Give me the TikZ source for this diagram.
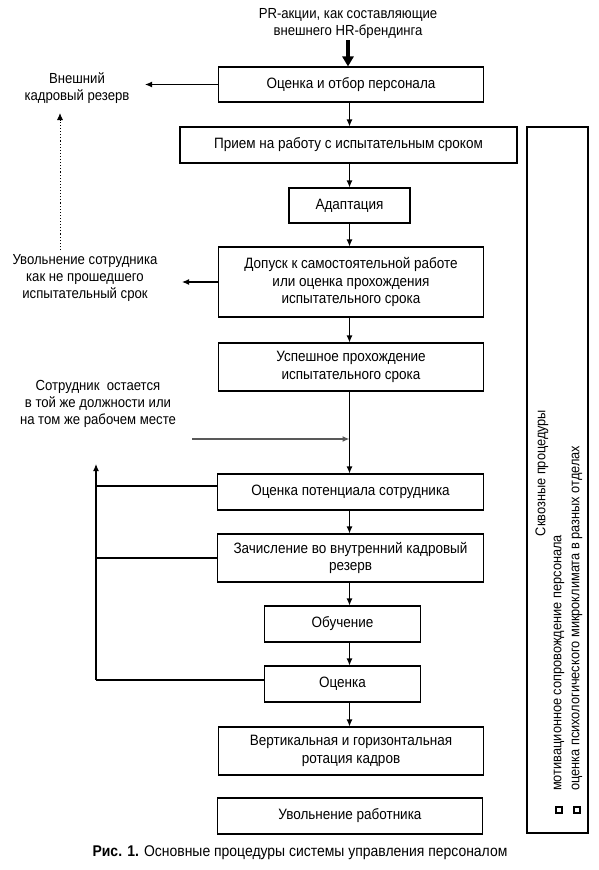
\documentclass[tikz,border=0pt]{standalone}
\usepackage{fontspec}
\setmainfont{Liberation Sans}[FakeStretch=0.9]
\usetikzlibrary{arrows.meta}
\begin{document}
\begin{tikzpicture}[x=1pt,y=-1pt,
  box/.style={draw,line width=1.1pt,inner sep=0pt,align=center,font=\fontsize{15}{17.5}\selectfont},
  lbl/.style={inner sep=0pt,align=center,font=\fontsize{14.6}{17}\selectfont},
  sidet/.style={inner sep=0pt,font=\fontsize{14.2}{17}\selectfont},
  arr/.style={line width=1.1pt,-{Latex[length=7pt,width=6pt]}},
  ln/.style={line width=1.1pt}]
\useasboundingbox (0,0) rectangle (599,870);
% boxes
\node[box,minimum width=265pt,minimum height=35pt] (b1) at (351,84.5) {Оценка и отбор персонала};
\node[box,minimum width=337pt,minimum height=36pt] (b2) at (348.5,145) {Прием на работу с испытательным сроком};
\node[box,minimum width=121pt,minimum height=35pt] (b3) at (349.5,205.5) {Адаптация};
\node[box,minimum width=265pt,minimum height=70pt] (b4) at (351,282) {Допуск к самостоятельной работе\\или оценка прохождения\\испытательного срока};
\node[box,minimum width=265pt,minimum height=48pt] (b5) at (351,367) {Успешное прохождение\\испытательного срока};
\node[box,minimum width=266pt,minimum height=36pt] (b6) at (350.5,492) {Оценка потенциала сотрудника};
\node[box,minimum width=266pt,minimum height=48pt] (b7) at (350.5,558) {Зачисление во внутренний кадровый\\резерв};
\node[box,minimum width=156pt,minimum height=36pt] (b8) at (342.5,624) {Обучение};
\node[box,minimum width=156pt,minimum height=36pt] (b9) at (342.5,684) {Оценка};
\node[box,minimum width=265pt,minimum height=48pt] (b10) at (351,751) {Вертикальная и горизонтальная\\ротация кадров};
\node[box,minimum width=265pt,minimum height=36pt] (b11) at (350,816) {Увольнение работника};
\node[box,minimum width=61pt,minimum height=706pt] (side) at (557.5,480) {};
% side texts
\node[sidet,rotate=90] (s1) at (542,473) {Сквозные процедуры};
\node[sidet,rotate=90,anchor=west] (s2) at (559,791) {мотивационное сопровождение персонала};
\node[sidet,rotate=90,anchor=west] (s3) at (577,791) {оценка психологического микроклимата в разных отделах};
\draw[line width=1.2pt] (556,807) rectangle (562,813);
\draw[line width=1.2pt] (574,807) rectangle (580,813);
% free texts
\node[lbl] (pr) at (348,23.5) {PR-акции, как составляющие\\внешнего HR-брендинга};
\node[lbl] (ext) at (77,88.5) {Внешний\\кадровый резерв};
\node[lbl] (fire) at (85,277.5) {Увольнение сотрудника\\как не прошедшего\\испытательный срок};
\node[lbl] (stay) at (98,403.5) {Сотрудник\ \ остается\\в той же должности или\\на том же рабочем месте};
\node[inner sep=0pt,font=\fontsize{15.5}{17}\selectfont] (cap) at (300,853) {\textbf{Рис. 1.} Основные процедуры системы управления персоналом};
% coordinates
\coordinate (e1) at (145,85);
\coordinate (e4) at (182,283);
\coordinate (dt) at (60,113);
\coordinate (db) at (60,250);
\coordinate (st) at (192,439);
\coordinate (jn) at (b5.south |- st);
\coordinate (lt) at (96,464);
\coordinate (lb) at (96,680);
% connectors
\draw[line width=3.2pt,-{Triangle[length=10pt,width=11pt]}] (pr.south |- 0,40) -- (pr.south |- b1.north);
\draw[arr] (b1.west) -- (b1.west -| e1);
\draw[arr] (b1.south -| b3.north) -- (b2.north -| b3.north);
\draw[arr] (b2.south -| b3.north) -- (b3.north);
\draw[arr] (b3.south) -- (b4.north -| b3.south);
\draw[arr] (b4.west) -- (b4.west -| e4);
\draw[arr] (b4.south -| b3.south) -- (b5.north -| b3.south);
\draw[arr,dotted,line width=0.9pt] (db) -- (dt);
\draw[ln] (b5.south -| b3.south) -- (jn -| b3.south);
\draw[arr] (jn -| b3.south) -- (b6.north -| b3.south);
\draw[arr,draw=black!65,line width=1.6pt] (st) -- (jn -| b3.south);
\draw[arr] (b6.south -| b3.south) -- (b7.north -| b3.south);
\draw[arr] (b7.south -| b3.south) -- (b8.north -| b3.south);
\draw[arr] (b8.south -| b3.south) -- (b9.north -| b3.south);
\draw[arr] (b9.south -| b3.south) -- (b10.north -| b3.south);
\draw[ln] (b9.west |- lb) -- (lb);
\draw[arr] (lb) -- (lt);
\draw[ln] ([yshift=6pt]b6.west) -- ([yshift=6pt]b6.west -| lt);
\draw[ln] (b7.west) -- (b7.west -| lt);
\end{tikzpicture}
\end{document}
